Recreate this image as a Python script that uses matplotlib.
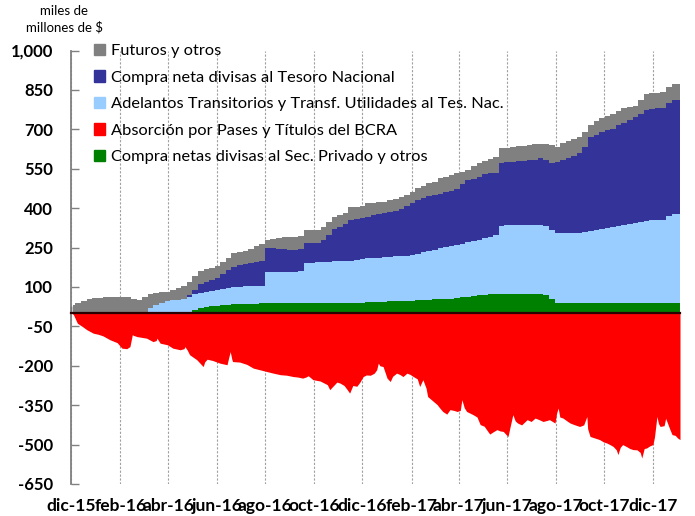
import matplotlib
matplotlib.use('Agg')
import matplotlib.pyplot as plt
import matplotlib.dates as mdates
from matplotlib.patches import Patch
from matplotlib.ticker import FixedLocator, FixedFormatter
import numpy as np
import pandas as pd

plt.rcParams['font.family'] = ['Lato', 'DejaVu Sans']

start = pd.Timestamp('2015-12-01')

# Weekly stock contributions, miles de millones de $
dates = pd.date_range('2015-12-03', periods=110, freq='7D')

compra_privado = [
    0, 0, 0, 0, 0, 0, 0, 0, 0, 0,
    0, -3, -3, 0, 1, 1, 2, 2, 2, 3,
    3, 5, 14, 19, 22, 26, 28, 30, 32, 34,
    35, 35, 36, 37, 38, 38, 38, 38, 38, 38,
    38, 38, 38, 38, 38, 38, 38, 38, 38, 38,
    38, 38, 38, 44, 44, 44, 44, 45, 46, 46,
    47, 48, 49, 50, 52, 54, 55, 55, 56, 58,
    60, 62, 65, 70, 70, 72, 72, 72, 72, 72,
    72, 72, 72, 72, 72, 68, 55, 40, 38, 38,
    38, 38, 38, 38, 38, 38, 38, 38, 38, 38,
    38, 38, 38, 38, 38, 38, 38, 38, 38, 38,
]
adelantos = [
    0, 0, 0, 0, 0, 0, 0, 0, 0, 0,
    0, 0, 0, 0, 19, 29, 38, 46, 48, 48,
    50, 57, 58, 59, 60, 60, 61, 62, 64, 65,
    66, 67, 67, 67, 67, 120, 120, 120, 120, 120,
    120, 122, 154, 155, 156, 157, 158, 159, 160, 161,
    162, 165, 168, 165, 166, 168, 170, 170, 170, 172,
    172, 173, 176, 182, 186, 188, 193, 197, 200, 201,
    203, 208, 210, 210, 215, 218, 225, 261, 262, 262,
    262, 263, 263, 263, 263, 265, 263, 264, 266, 266,
    266, 267, 270, 274, 278, 282, 287, 291, 294, 298,
    302, 304, 308, 314, 315, 316, 316, 332, 339, 339,
]
compra_tesoro = [
    0, 0, 0, 0, 0, 0, 0, 0, 0, 0,
    0, 0, 0, 0, 0, 0, 0, 0, 0, 0,
    0, 6, 18, 32, 38, 41, 45, 56, 67, 78,
    81, 84, 87, 90, 93, 92, 90, 88, 85, 82,
    82, 85, 74, 73, 74, 85, 101, 123, 132, 141,
    154, 155, 156, 158, 162, 164, 166, 170, 173, 177,
    191, 199, 205, 208, 209, 208, 207, 208, 210, 213,
    227, 236, 235, 238, 245, 243, 238, 239, 240, 242,
    244, 245, 247, 250, 254, 252, 252, 271, 281, 286,
    294, 305, 324, 360, 364, 370, 373, 374, 383, 389,
    395, 403, 414, 423, 425, 426, 429, 430, 433, 433,
]
futuros = [
    30, 40, 48, 53, 57, 58, 60, 61, 63, 63,
    60, 58, 54, 60, 52, 46, 40, 34, 38, 44,
    52, 50, 52, 50, 48, 46, 44, 48, 49, 51,
    50, 52, 55, 61, 64, 28, 34, 39, 47, 52,
    51, 50, 50, 50, 50, 50, 51, 47, 42, 40,
    49, 47, 46, 51, 48, 46, 45, 45, 47, 46,
    40, 42, 45, 45, 47, 50, 61, 60, 59, 60,
    48, 38, 50, 54, 50, 55, 60, 55, 56, 56,
    57, 58, 58, 58, 57, 61, 70, 57, 63, 65,
    64, 60, 58, 43, 50, 52, 54, 57, 55, 55,
    51, 45, 50, 61, 60, 60, 58, 60, 61, 61,
]

# Daily absorption readings: days since 1-dic-2015 and stock
absorcion_dias = [
    1, 3, 8, 14, 20, 28, 34, 40, 49, 58, 64, 70, 74, 77, 79, 83, 89, 95,
    103, 107, 108, 112, 121, 128, 137, 142, 143, 146, 149, 158, 166, 168,
    171, 178, 187, 196, 198, 200, 202, 203, 212, 221, 229, 237, 246, 254,
    263, 271, 279, 285, 291, 295, 298, 304, 313, 322, 325, 329, 334, 338,
    343, 347, 350, 354, 359, 363, 367, 371, 376, 381, 384, 386, 388, 392,
    397, 401, 404, 409, 413, 417, 422, 426, 430, 435, 438, 442, 446, 448,
    453, 460, 463, 467, 472, 476, 481, 485, 489, 491, 494, 497, 501, 505,
    510, 514, 519, 522, 526, 530, 535, 539, 543, 546, 549, 551, 555, 558,
    561, 566, 573, 578, 583, 588, 593, 598, 601, 608, 610, 612, 614, 618,
    623, 627, 633, 639, 644, 648, 649, 652, 658, 664, 669, 673, 677, 681,
    685, 687, 690, 693, 698, 702, 706, 711, 715, 717, 720, 723, 727, 731,
    733, 736, 738, 740, 745, 747, 750, 752, 755, 759, 762, 765,
]
absorcion = [
    0, -5, -38, -50, -63, -76, -80, -86, -101, -112, -133, -135, -127, -82,
    -85, -89, -92, -95, -108, -104, -95, -114, -120, -133, -139, -135, -127,
    -140, -158, -177, -203, -185, -175, -180, -190, -196, -170, -146, -175,
    -184, -186, -195, -209, -215, -222, -228, -234, -236, -241, -243, -247,
    -243, -238, -253, -258, -272, -291, -278, -262, -266, -275, -291, -304,
    -275, -278, -262, -241, -235, -236, -228, -215, -190, -200, -203, -247,
    -260, -240, -228, -233, -241, -228, -233, -241, -250, -279, -253, -285,
    -317, -330, -348, -360, -374, -384, -367, -370, -374, -370, -329, -360,
    -374, -380, -386, -395, -424, -430, -443, -460, -452, -443, -448, -450,
    -460, -469, -440, -386, -410, -418, -425, -405, -412, -399, -405, -412,
    -408, -405, -418, -380, -361, -395, -399, -410, -418, -425, -431, -425,
    -393, -440, -469, -475, -481, -490, -494, -500, -507, -520, -538, -510,
    -500, -508, -515, -519, -520, -530, -551, -515, -513, -505, -500, -470,
    -393, -420, -431, -428, -400, -424, -440, -462, -465, -475, -481,
]
absorcion_fechas = start + pd.to_timedelta(absorcion_dias, unit='D')

series_names = [
    'Futuros y otros',
    'Compra neta divisas al Tesoro Nacional',
    'Adelantos Transitorios y Transf. Utilidades al Tes. Nac.',
    'Absorción por Pases y Títulos del BCRA',
    'Compra netas divisas al Sec. Privado y otros',
]
c_gray, c_navy, c_lblue, c_red, c_green = '#808080', '#333399', '#99CCFF', '#FF0000', '#008000'

tick_dates = pd.date_range('2015-12-01', '2017-12-01', freq='2MS')
tick_labels = ['dic-15', 'feb-16', 'abr-16', 'jun-16', 'ago-16', 'oct-16', 'dic-16',
               'feb-17', 'abr-17', 'jun-17', 'ago-17', 'oct-17', 'dic-17']
y_ticks = [-650, -500, -350, -200, -50, 100, 250, 400, 550, 700, 850, 1000]
y_labels = [f'{v:,}' for v in y_ticks]

fig = plt.figure(figsize=(6.95, 5.16), dpi=100)
ax = fig.add_axes([71 / 695, 1 - 484 / 516, (680 - 71) / 695, (484 - 50.5) / 516])

# stacked positive components, drawn as weekly steps
layers = [compra_privado, adelantos, compra_tesoro, futuros]
colors = [c_green, c_lblue, c_navy, c_gray]
base = np.zeros(len(dates))
for vals, col in zip(layers, colors):
    top = base + np.asarray(vals, dtype=float)
    ax.fill_between(dates, base, top, step='mid', color=col, linewidth=0, zorder=2)
    base = top

ax.fill_between(absorcion_fechas, 0, absorcion, color=c_red, linewidth=0, zorder=2)

ax.set_xlim(start, dates[-1])
ax.set_ylim(-650, 1000)

# vertical guides behind the areas
ax.xaxis.set_major_locator(FixedLocator(mdates.date2num(tick_dates)))
ax.grid(axis='x', color='#a0a0a0', linestyle=(0, (2, 1.5)), linewidth=0.8)
ax.set_axisbelow(True)

for s in ('top', 'right'):
    ax.spines[s].set_visible(False)
ax.spines['left'].set_color('#808080')
ax.spines['left'].set_linewidth(1.3)
ax.spines['bottom'].set_position(('data', 0))
ax.spines['bottom'].set_color('#2a0000')
ax.spines['bottom'].set_linewidth(1.6)
ax.spines['bottom'].set_zorder(3)
ax.tick_params(axis='x', direction='in', length=5, width=1, color='#000000', labelbottom=False)

ax.set_yticks(y_ticks)
ax.set_yticklabels(y_labels, fontweight='bold', fontsize=12)
ax.tick_params(axis='y', direction='in', length=6, width=1, color='#808080', pad=13)

sec = ax.secondary_xaxis('bottom')
sec.xaxis.set_major_locator(FixedLocator(mdates.date2num(tick_dates)))
sec.xaxis.set_major_formatter(FixedFormatter(tick_labels))
sec.tick_params(length=0, pad=10, labelsize=12.5)
for lab in sec.get_xticklabels():
    lab.set_fontweight('bold')
sec.spines['bottom'].set_visible(False)

fig.text(64 / 695, 1 - 19 / 516, 'miles de\nmillones de $', ha='center', va='center',
         fontsize=9.5, linespacing=1.4)

handles = [Patch(color=c) for c in (c_gray, c_navy, c_lblue, c_red, c_green)]
fig.legend(handles, series_names, loc='upper left', bbox_to_anchor=(94 / 695, 1 - 44 / 516),
           frameon=False, fontsize=11.8, handlelength=0.7, handleheight=0.7,
           handletextpad=0.35, labelspacing=0.73, borderaxespad=0, borderpad=0)

fig.savefig('out.png', dpi=100)
